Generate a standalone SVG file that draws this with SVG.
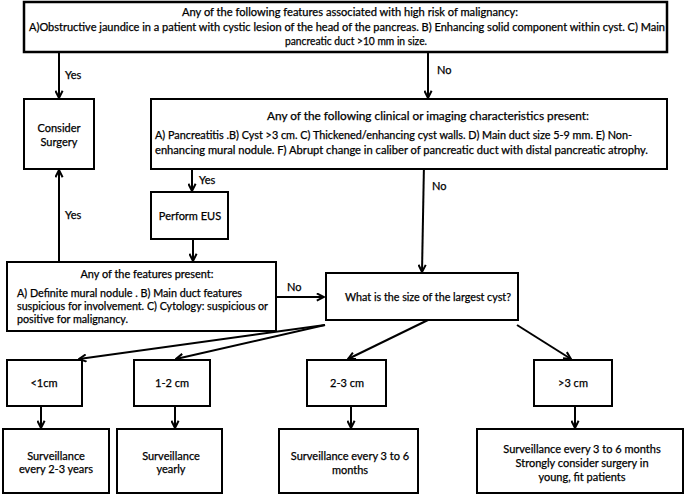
<svg xmlns="http://www.w3.org/2000/svg" width="685" height="495" viewBox="0 0 685 495">
<defs>
<marker id="ah" viewBox="0 0 10 10" refX="9" refY="5" markerWidth="9" markerHeight="9" markerUnits="userSpaceOnUse" orient="auto">
<path d="M1,1 L9,5 L1,9" fill="none" stroke="#000" stroke-width="2.2"/>
</marker>
<style>
rect{fill:#fff;stroke:#000;stroke-width:2}
text{font-family:Lato,"Liberation Sans",sans-serif;font-size:10.5px;fill:#000;stroke:#000;stroke-width:0.25}
.c{text-anchor:middle}
.s{font-size:11px}
line{stroke:#000;stroke-width:2;fill:none}
.a{marker-end:url(#ah)}
</style>
</defs>
<rect width="685" height="495" style="fill:#fff;stroke:none"/>
<g id="connectors">
<line class="a" x1="59" y1="52" x2="59" y2="98"/>
<line class="a" x1="428" y1="52" x2="428" y2="98"/>
<line class="a" x1="192" y1="169" x2="192" y2="191"/>
<line class="a" x1="193" y1="239" x2="193" y2="261"/>
<line class="a" x1="59" y1="262" x2="59" y2="170"/>
<line class="a" x1="424" y1="163" x2="422" y2="272"/>
<line class="a" x1="276" y1="297" x2="324" y2="297"/>
<line class="a" x1="325" y1="325" x2="79" y2="359"/>
<line class="a" x1="325" y1="325" x2="176" y2="359"/>
<line class="a" x1="428" y1="320" x2="348" y2="359"/>
<line class="a" x1="517" y1="325" x2="571" y2="359"/>
<line class="a" x1="41" y1="406" x2="41" y2="428"/>
<line class="a" x1="175" y1="406" x2="175" y2="428"/>
<line class="a" x1="351" y1="406" x2="351" y2="428"/>
<line class="a" x1="575" y1="406" x2="575" y2="428"/>
<text class="s" x="65" y="79">Yes</text>
<text class="s" x="437" y="74">No</text>
<text class="s" x="199" y="184">Yes</text>
<text class="s" x="65" y="219">Yes</text>
<text class="s" x="432" y="190">No</text>
<text class="s" x="287" y="291">No</text>
</g>
<g id="top">
<rect x="24" y="2" width="643" height="50" style="stroke-width:2.5"/>
<text class="c" x="350" y="16" textLength="336" lengthAdjust="spacingAndGlyphs">Any of the following features associated with high risk of malignancy:</text>
<text class="c" x="347" y="31" textLength="636" lengthAdjust="spacingAndGlyphs">A)Obstructive jaundice in a patient with cystic lesion of the head of the pancreas.  B) Enhancing solid component within cyst.  C) Main</text>
<text class="c" x="356" y="45" textLength="142" lengthAdjust="spacingAndGlyphs">pancreatic duct &gt;10 mm in size.</text>
</g>
<g id="consider-surgery">
<rect x="24" y="99" width="70" height="70"/>
<text class="c s" x="59" y="132">Consider</text>
<text class="c s" x="59" y="146">Surgery</text>
</g>
<g id="characteristics">
<rect x="151" y="99" width="516" height="70"/>
<text class="c" x="428" y="120" textLength="322" lengthAdjust="spacingAndGlyphs">Any of the following clinical or imaging characteristics present:</text>
<text x="155" y="139" textLength="477" lengthAdjust="spacingAndGlyphs">A) Pancreatitis .B) Cyst &gt;3 cm. C) Thickened/enhancing cyst walls. D) Main duct size 5-9 mm.  E) Non-</text>
<text x="155" y="154" textLength="493" lengthAdjust="spacingAndGlyphs">enhancing mural nodule. F) Abrupt change in caliber of pancreatic duct with distal pancreatic atrophy.</text>
</g>
<g id="perform-eus">
<rect x="151" y="192" width="77" height="47"/>
<text class="c s" x="190" y="220">Perform EUS</text>
</g>
<g id="features-present">
<rect x="7" y="262" width="269" height="69"/>
<text class="c" x="147" y="278" textLength="133" lengthAdjust="spacingAndGlyphs">Any of the features present:</text>
<text x="17" y="297" textLength="225" lengthAdjust="spacingAndGlyphs">A) Definite mural nodule . B) Main duct features</text>
<text x="17" y="310" textLength="251" lengthAdjust="spacingAndGlyphs">suspicious for involvement. C) Cytology: suspicious or</text>
<text x="17" y="323" textLength="111" lengthAdjust="spacingAndGlyphs">positive for malignancy.</text>
</g>
<g id="largest-cyst">
<rect x="326" y="273" width="192" height="47"/>
<text class="c" x="428" y="301" textLength="166" lengthAdjust="spacingAndGlyphs">What is the size of the largest cyst?</text>
</g>
<g id="lt1">
<rect x="7" y="360" width="75" height="46"/>
<text class="c s" x="44" y="387">&lt;1cm</text>
</g>
<g id="s12">
<rect x="134" y="360" width="76" height="46"/>
<text class="c s" x="172" y="387">1-2 cm</text>
</g>
<g id="s23">
<rect x="307" y="360" width="79" height="46"/>
<text class="c s" x="347" y="387">2-3 cm</text>
</g>
<g id="gt3">
<rect x="534" y="360" width="78" height="46"/>
<text class="c s" x="573" y="387">&gt;3 cm</text>
</g>
<g id="surv-lt1">
<rect x="3" y="429" width="106" height="64"/>
<text class="c s" x="56" y="460">Surveillance</text>
<text class="c s" x="56" y="473">every 2-3 years</text>
</g>
<g id="surv-12">
<rect x="117" y="429" width="105" height="64"/>
<text class="c s" x="171" y="460">Surveillance</text>
<text class="c s" x="171" y="473">yearly</text>
</g>
<g id="surv-23">
<rect x="279" y="429" width="139" height="64"/>
<text class="c s" x="350" y="460">Surveillance every 3 to 6</text>
<text class="c s" x="350" y="474">months</text>
</g>
<g id="surv-gt3">
<rect x="477" y="429" width="206" height="64"/>
<text class="c s" x="582" y="453">Surveillance every 3 to 6 months</text>
<text class="c s" x="582" y="467">Strongly consider surgery in</text>
<text class="c s" x="582" y="481">young, fit patients</text>
</g>
</svg>
